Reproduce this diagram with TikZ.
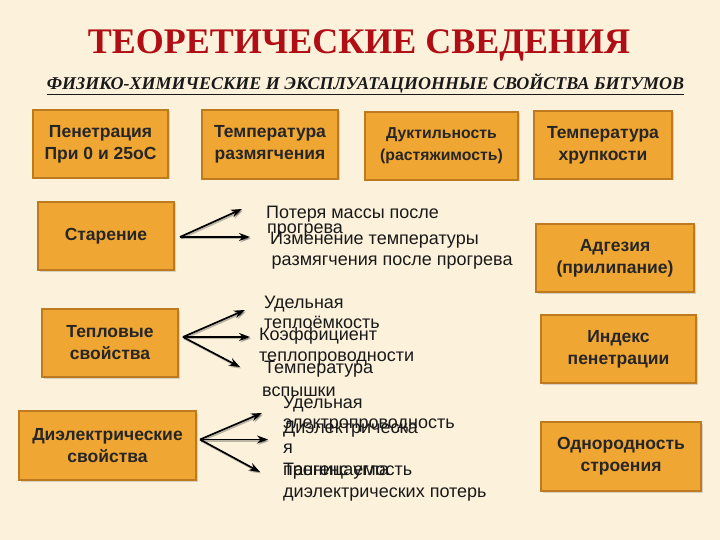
\documentclass[tikz,border=0pt]{standalone}
\usepackage{fontspec}
\setmainfont{Liberation Sans}
\newfontfamily\titleserif{Liberation Serif}
\usetikzlibrary{shadows,arrows.meta}
\definecolor{bg}{RGB}{252,242,220}
\definecolor{boxfill}{RGB}{240,166,50}
\definecolor{boxline}{RGB}{190,122,30}
\definecolor{titlered}{RGB}{176,14,20}
\begin{document}
\begin{tikzpicture}[x=1pt,y=-1pt,
 box/.style={draw=boxline, fill=boxfill, line width=1.3pt, align=center,
   font=\bfseries\fontsize{17.5}{22}\selectfont, text=black!85, inner sep=0pt,
   drop shadow={shadow xshift=1.5pt, shadow yshift=-1.5pt, opacity=0.3}},
 lbl/.style={anchor=base west, font=\fontsize{18}{20}\selectfont, text=black!90, inner sep=0pt},
 arr/.style={line width=1.7pt, -{Stealth[length=11pt,width=8pt]}},
 arrsh/.style={line width=1.7pt, black, opacity=0.25, -{Stealth[length=11pt,width=8pt]}, transform canvas={xshift=1.2pt,yshift=-1.5pt}}]
\fill[bg] (0,0) rectangle (720,540);
\useasboundingbox (0,0) rectangle (720,540);

% titles
\node[text=titlered, font=\titleserif\bfseries\fontsize{36}{40}\selectfont] (title) at (359,45) {ТЕОРЕТИЧЕСКИЕ СВЕДЕНИЯ};
\node[text=black!90, font=\titleserif\bfseries\itshape\fontsize{18}{20}\selectfont] (sub) at (365.5,84) {\underline{ФИЗИКО-ХИМИЧЕСКИЕ И ЭКСПЛУАТАЦИОННЫЕ СВОЙСТВА БИТУМОВ}};

% boxes
\node[box, minimum width=135pt, minimum height=68pt] (pen) at (100.5,144) {Пенетрация\\При 0 и 25оС};
\node[box, minimum width=136pt, minimum height=69pt] (tsoft) at (270,144.5) {Температура\\размягчения};
\node[box, minimum width=153pt, minimum height=68pt, font=\bfseries\fontsize{15.8}{22}\selectfont] (duct) at (441.5,146) {Дуктильность\\(растяжимость)};
\node[box, minimum width=138pt, minimum height=68pt] (tbrit) at (603,145) {Температура\\хрупкости};
\node[box, minimum width=136pt, minimum height=68pt] (aging) at (106,236) {Старение};
\node[box, minimum width=158pt, minimum height=68pt] (adh) at (615,258) {Адгезия\\(прилипание)};
\node[box, minimum width=136pt, minimum height=68pt] (heat) at (110,343) {Тепловые\\свойства};
\node[box, minimum width=155pt, minimum height=68pt] (index) at (618.5,349) {Индекс\\пенетрации};
\node[box, minimum width=177pt, minimum height=69pt] (diel) at (107.5,445.5) {Диэлектрические\\свойства};
\node[box, minimum width=160pt, minimum height=69pt] (homog) at (621,456.5) {Однородность\\строения};

% labels
\node[lbl] (l1a) at (266,218.5) {Потеря массы после};
\node[lbl] (l1b) at (267,233.5) {прогрева};
\node[lbl] (l2a) at (270,244) {Изменение температуры};
\node[lbl] (l2b) at (271.5,265) {размягчения после прогрева};
\node[lbl] (l3a) at (264,308) {Удельная};
\node[lbl] (l3b) at (264,328) {теплоёмкость};
\node[lbl] (l4a) at (259,340) {Коэффициент};
\node[lbl] (l4b) at (259,361.5) {теплопроводности};
\node[lbl] (l5a) at (264,373) {Температура};
\node[lbl] (l5b) at (262,396.5) {вспышки};
\node[lbl] (l6a) at (283,408) {Удельная};
\node[lbl] (l6b) at (283,428) {электропроводность};
\node[lbl] (l7a) at (283,433) {Диэлектрическа};
\node[lbl] (l7b) at (283,453) {я};
\node[lbl] (l7c) at (283,475) {проницаемость};
\node[lbl] (l8a) at (283,475) {Тангенс угла};
\node[lbl] (l8b) at (283,497) {диэлектрических потерь};

% arrow vertices and tips
\coordinate (v1) at (180,237);
\coordinate (t1a) at (242,209);
\coordinate (t1b) at (250,237);
\coordinate (v2) at (183,337);
\coordinate (t2a) at (245,310);
\coordinate (t2b) at (250,337);
\coordinate (t2c) at (240,367);
\coordinate (v3) at (200,439.5);
\coordinate (t3a) at (262,413);
\coordinate (t3b) at (268,439.5);
\coordinate (t3c) at (260,472);

\foreach \v/\t in {v1/t1a,v1/t1b,v2/t2a,v2/t2b,v2/t2c,v3/t3a,v3/t3b,v3/t3c}{
  \draw[arrsh] (\v) -- (\t);
  \draw[arr] (\v) -- (\t);
}
\end{tikzpicture}
\end{document}
